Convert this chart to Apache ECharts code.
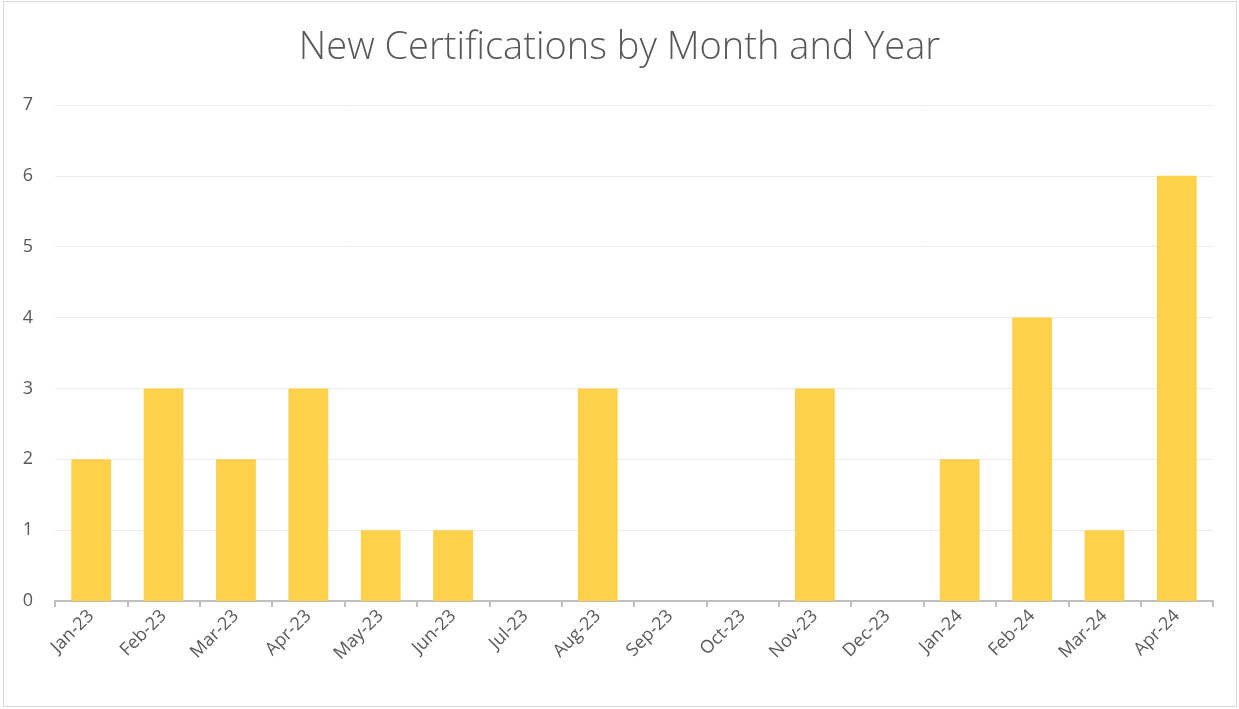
<!DOCTYPE html>
<html>
<head>
<meta charset="utf-8">
<script src="https://cdn.jsdelivr.net/npm/echarts@6/dist/echarts.min.js"></script>
<style>
html,body{margin:0;padding:0;background:#fff;}
#wrap{position:absolute;left:3px;top:1px;width:1234px;height:706px;border:1px solid #d9d9d9;box-sizing:border-box;}
#chart{position:absolute;left:0;top:0;width:1239px;height:709px;}
</style>
</head>
<body>
<div id="wrap"></div>
<div id="chart"></div>
<script>
const categories = ['Jan-23','Feb-23','Mar-23','Apr-23','May-23','Jun-23','Jul-23','Aug-23','Sep-23','Oct-23','Nov-23','Dec-23','Jan-24','Feb-24','Mar-24','Apr-24'];
const certifications = [2,3,2,3,1,1,0,3,0,0,3,0,2,4,1,6];
const yTicks = [0,1,2,3,4,5,6,7];

const chart = echarts.init(document.getElementById('chart'));
chart.setOption({
  animation:false,
  title:{
    text:'New Certifications by Month and Year',
    left:'center', top:24,
    textStyle:{fontFamily:'Open Sans', fontSize:38, fontWeight:300, color:'#595959'}
  },
  grid:{left:55, right:26, top:105, bottom:108},
  xAxis:{
    type:'category',
    data:categories,
    boundaryGap:true,
    axisLine:{lineStyle:{color:'#bfbfbf', width:2}},
    axisTick:{show:true, alignWithLabel:false, length:6, lineStyle:{color:'#bfbfbf', width:2}},
    axisLabel:{rotate:45, fontFamily:'Open Sans', fontSize:18, color:'#595959', margin:12, interval:0}
  },
  yAxis:{
    type:'value',
    min:yTicks[0], max:yTicks[yTicks.length-1], interval:1,
    axisLine:{show:false}, axisTick:{show:false},
    axisLabel:{fontFamily:'Open Sans', fontSize:18, color:'#595959', margin:22},
    splitLine:{lineStyle:{color:'#ececec', width:1}}
  },
  series:[{
    type:'bar',
    data:certifications,
    barWidth:'55%',
    itemStyle:{color:'#FED14C'}
  }]
});
</script>
</body>
</html>
